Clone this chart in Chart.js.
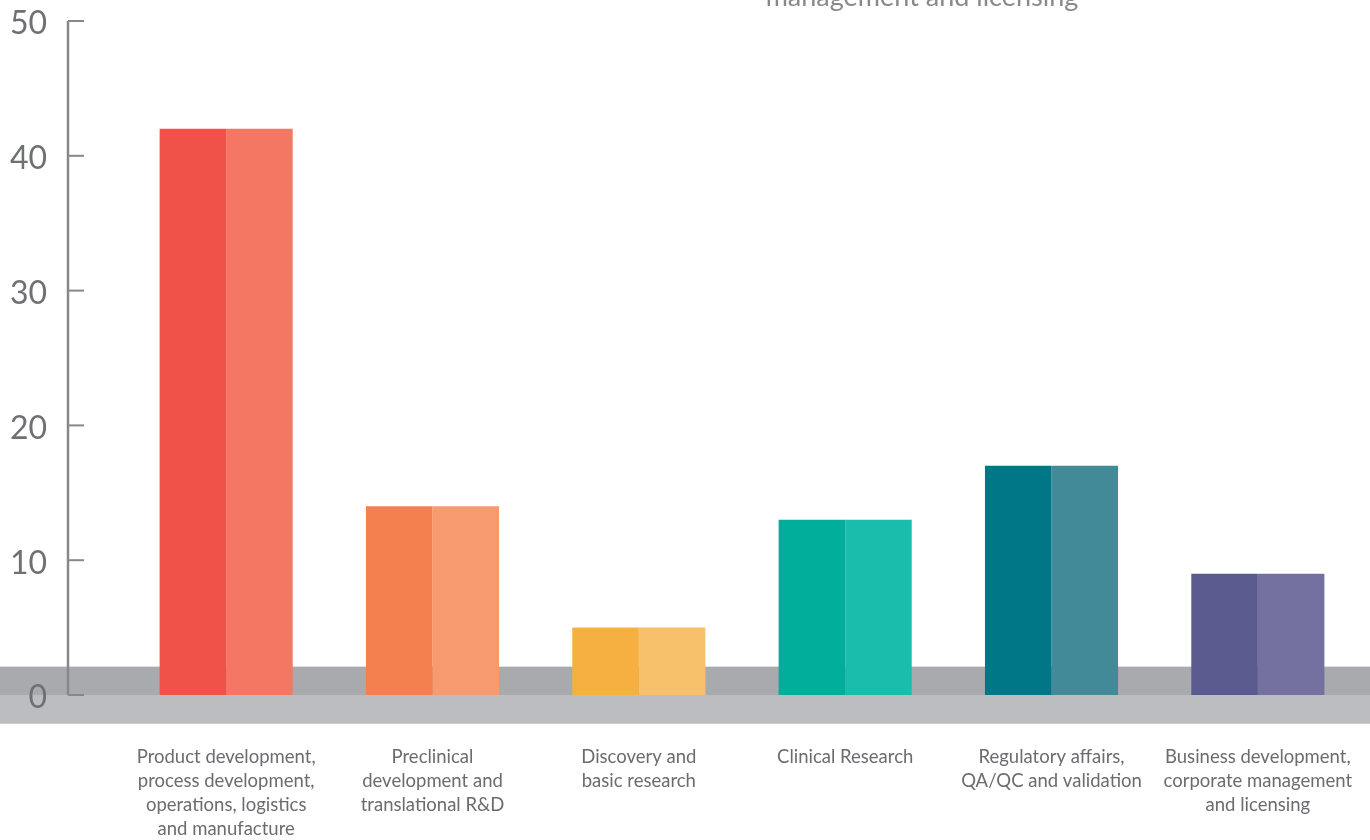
<!DOCTYPE html>
<html>
<head>
<meta charset="utf-8">
<script src="https://cdn.jsdelivr.net/npm/chart.js@4"></script>
<style>
html,body{margin:0;padding:0;background:#fff;}
#wrap{width:1370px;height:840px;position:relative;}
</style>
</head>
<body>
<div id="wrap"><canvas id="c" width="1370" height="840"></canvas></div>
<script>
const categories = [
  ["Product development,", "process development,", "operations, logistics", "and manufacture"],
  ["Preclinical", "development and", "translational R&D"],
  ["Discovery and", "basic research"],
  ["Clinical Research"],
  ["Regulatory affairs,", "QA/QC and validation"],
  ["Business development,", "corporate management", "and licensing"]
];
const valuesA = [42, 14, 5, 13, 17, 9];
const valuesB = [42, 14, 5, 13, 17, 9];
const colorsA = ["#f0524a", "#f5804f", "#f5b041", "#00ae9b", "#007787", "#5b5a8e"];
const colorsB = ["#f47764", "#f79a6f", "#f7c06a", "#1abcac", "#428a98", "#7470a0"];
const yTicks = [0, 10, 20, 30, 40, 50];
const topText = "management and licensing";

const decor = {
  id: 'decor',
  beforeDraw(chart) {
    const ctx = chart.ctx;
    const b = chart.chartArea.bottom;
    ctx.save();
    ctx.fillStyle = '#a9aaad';
    ctx.fillRect(0, b - 28, chart.width, 28);
    ctx.fillStyle = '#bcbdc1';
    ctx.fillRect(0, b, chart.width, 28);
    ctx.fillStyle = '#e2e2e4';
    ctx.fillRect(0, b - 29, chart.width, 1);
    ctx.fillStyle = '#cfd0d3';
    ctx.fillRect(0, b + 28, chart.width, 1);
    ctx.restore();
  },
  afterDatasetsDraw(chart) {
    const ctx = chart.ctx;
    const y = chart.scales.y;
    const ax = 68;
    ctx.save();
    ctx.strokeStyle = '#87888b';
    ctx.lineWidth = 2.5;
    ctx.beginPath();
    ctx.moveTo(ax, y.getPixelForValue(50));
    ctx.lineTo(ax, y.getPixelForValue(0));
    ctx.stroke();
    ctx.lineWidth = 2;
    yTicks.forEach(v => {
      const py = y.getPixelForValue(v);
      ctx.beginPath();
      ctx.moveTo(ax, py);
      ctx.lineTo(84, py);
      ctx.stroke();
    });
    ctx.fillStyle = '#88898c';
    ctx.font = '27px Lato';
    ctx.textAlign = 'center';
    ctx.textBaseline = 'alphabetic';
    ctx.fillText(topText, 922, 6);
    ctx.restore();
  }
};

new Chart(document.getElementById('c'), {
  type: 'bar',
  data: {
    labels: categories,
    datasets: [
      { data: valuesA, backgroundColor: colorsA, borderWidth: 0 },
      { data: valuesB, backgroundColor: colorsB, borderWidth: 0 }
    ]
  },
  options: {
    responsive: false,
    animation: false,
    devicePixelRatio: 1,
    layout: { padding: { top: 21, right: 9, left: 0, bottom: 0 } },
    plugins: { legend: { display: false }, tooltip: { enabled: false }, title: { display: false } },
    datasets: { bar: { barPercentage: 1, categoryPercentage: 0.645 } },
    scales: {
      x: {
        grid: { display: false, drawTicks: false },
        border: { display: false },
        ticks: {
          autoSkip: false, maxRotation: 0, minRotation: 0,
          color: '#6b6c70', padding: 50,
          font: { family: 'Lato', size: 18.5, lineHeight: 1.3 }
        },
        afterFit(s) { s.height = 145; s.paddingLeft = 0; s.paddingRight = 0; }
      },
      y: {
        min: 0, max: 50,
        afterBuildTicks(s) { s.ticks = yTicks.map(v => ({ value: v })); },
        grid: { display: false, drawTicks: false },
        border: { display: false },
        ticks: {
          color: '#6f7074', padding: 76, labelOffset: 3,
          font: { family: 'Lato', size: 32 }
        },
        afterFit(s) { s.width = 123; s.paddingTop = 0; s.paddingBottom = 0; }
      }
    }
  },
  plugins: [decor]
});
</script>
</body>
</html>
